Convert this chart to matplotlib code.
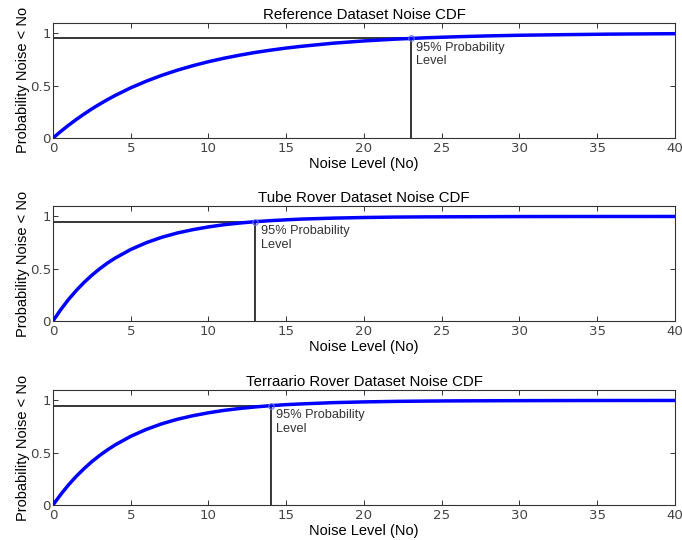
import matplotlib
matplotlib.use("Agg")
import matplotlib.pyplot as plt

plt.rcParams['font.family'] = ['Liberation Sans', 'DejaVu Sans']

# noise level grid shared by all three CDFs
noise_levels = [0, 0.5, 1, 1.5, 2, 2.5, 3, 3.5, 4, 5, 6, 7, 8, 9, 10, 11, 12,
                13, 14, 15, 16, 18, 20, 22, 24, 26, 28, 30, 33, 36, 40]

cdf_reference = [0.0, 0.063, 0.122, 0.177, 0.229, 0.278, 0.323, 0.366, 0.406,
                 0.479, 0.542, 0.598, 0.647, 0.690, 0.728, 0.761, 0.790,
                 0.816, 0.838, 0.858, 0.875, 0.904, 0.926, 0.943, 0.956,
                 0.966, 0.974, 0.980, 0.986, 0.991, 0.995]
cdf_tube = [0.0, 0.109, 0.206, 0.292, 0.369, 0.438, 0.499, 0.554, 0.602,
            0.684, 0.749, 0.801, 0.842, 0.874, 0.900, 0.921, 0.937,
            0.950, 0.960, 0.968, 0.975, 0.984, 0.990, 0.994, 0.996,
            0.997, 0.998, 0.999, 0.9995, 0.9997, 0.9999]
cdf_terraario = [0.0, 0.101, 0.193, 0.275, 0.348, 0.415, 0.474, 0.527, 0.575,
                 0.657, 0.723, 0.777, 0.820, 0.854, 0.882, 0.905, 0.923,
                 0.938, 0.950, 0.960, 0.967, 0.979, 0.986, 0.991, 0.994,
                 0.996, 0.997, 0.998, 0.999, 0.9995, 0.9998]

titles = ["Reference Dataset Noise CDF",
          "Tube Rover Dataset Noise CDF",
          "Terraario Rover Dataset Noise CDF"]
curves = [cdf_reference, cdf_tube, cdf_terraario]
level95_x = [23, 13, 14]
level95_y = 0.95
prob_label = "95% Probability\nLevel"

fig = plt.figure(figsize=(6.82, 5.40), dpi=100)
boxes = [[0.0777, 0.7444, 0.912, 0.2136],
         [0.0777, 0.4056, 0.912, 0.2129],
         [0.0777, 0.0648, 0.912, 0.2130]]

for box, title, cdf, nx in zip(boxes, titles, curves, level95_x):
    ax = fig.add_axes(box)
    ax.plot(noise_levels, cdf, color="#0000ff", lw=2.5, solid_capstyle="butt",
            solid_joinstyle="round", zorder=3)
    # 95% probability guide lines
    ax.plot([0, nx], [level95_y, level95_y], color="k", lw=1.1, zorder=2)
    ax.plot([nx, nx], [0, level95_y], color="k", lw=1.1, zorder=2)
    ax.plot([nx], [level95_y], marker="o", ms=4, mfc="none",
            mec="#6070ff", mew=0.8, zorder=4)
    ax.text(nx + 0.35, 0.915, prob_label, fontsize=9.2, color="#333333",
            va="top", ha="left", linespacing=1.15)

    ax.set_xlim(0, 40)
    ax.set_ylim(0, 1.1)
    ax.set_xticks([0, 5, 10, 15, 20, 25, 30, 35, 40])
    ax.set_yticks([0, 0.5, 1])
    ax.set_yticklabels(["0", "0.5", "1"])
    ax.tick_params(axis="x", pad=3.2)
    ax.tick_params(axis="y", pad=1.5)
    ax.tick_params(direction="in", length=3.5, width=0.7, top=True, right=True,
                   labelsize=9.6, labelcolor="#444444", color="#333333")
    for lab in ax.get_xticklabels() + ax.get_yticklabels():
        lab.set_family("DejaVu Sans")
    for sp in ax.spines.values():
        sp.set_linewidth(0.8)
        sp.set_color("#333333")
    ax.set_title(title, fontsize=10.8, pad=3)
    ax.set_xlabel("Noise Level (No)", fontsize=10.5, labelpad=1)
    ax.set_ylabel("Probability Noise < No", fontsize=10.5, labelpad=0)

fig.savefig("out.png", dpi=100)
